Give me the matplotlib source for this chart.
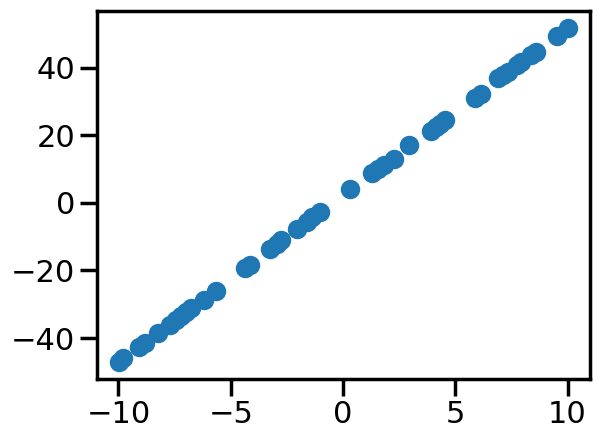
import matplotlib
matplotlib.use("Agg")
import matplotlib.pyplot as plt
import seaborn as sns

# values
x = [-9.96, -9.78, -9.07, -8.81, -8.23, -7.70, -7.43, -7.21, -6.99, -6.77,
     -6.19, -5.66, -4.38, -4.16, -3.23, -2.96, -2.74, -2.04, -1.59, -1.37,
     -1.02, 0.31, 1.28, 1.55, 1.81, 2.26, 2.96, 3.94, 4.12, 4.34,
     4.56, 5.88, 6.15, 6.90, 7.12, 7.35, 7.74, 7.92, 8.36, 8.58,
     9.51, 10.0]
y = [-47.1, -45.9, -42.7, -41.5, -38.5, -36.2, -34.7, -33.5, -32.3, -31.1,
     -28.8, -26.1, -19.3, -18.5, -13.7, -12.2, -11.1, -7.8, -5.8, -4.3,
     -2.8, 4.0, 8.7, 9.9, 11.1, 13.1, 17.0, 21.4, 22.3, 23.2,
     24.6, 31.1, 32.3, 36.8, 37.9, 38.8, 40.9, 41.8, 43.8, 44.7,
     49.4, 51.8]

sns.set_context("poster")

fig, ax = plt.subplots(figsize=(6.02, 4.4), dpi=100)
ax.scatter(x, y)
plt.subplots_adjust(left=0.161, right=0.98, top=0.975, bottom=0.139)
plt.savefig("out.png", dpi=100)
